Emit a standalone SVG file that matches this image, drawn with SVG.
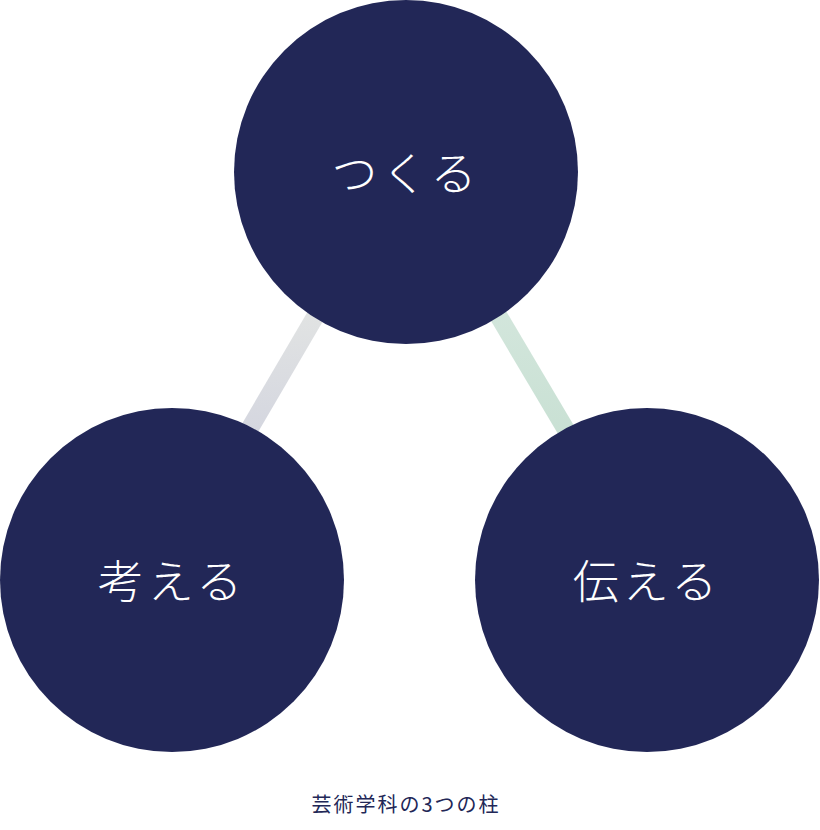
<svg xmlns="http://www.w3.org/2000/svg" width="820" height="830" viewBox="0 0 820 830">
<defs>
<linearGradient id="gl" x1="0" y1="0" x2="0" y2="1"><stop offset="0" stop-color="#e2e4e3"/><stop offset="1" stop-color="#d3d5df"/></linearGradient>
<linearGradient id="gr" x1="0" y1="0" x2="0" y2="1"><stop offset="0" stop-color="#d3e6dc"/><stop offset="1" stop-color="#c8e0d3"/></linearGradient>
<linearGradient id="gb" x1="0" y1="0" x2="1" y2="0"><stop offset="0" stop-color="#d6d8e1"/><stop offset="0.7" stop-color="#eff0ea"/><stop offset="1" stop-color="#e7e9e6"/></linearGradient>
<style>
.c{fill:#222757}
.t{fill:#fff;font-family:"Noto Sans CJK JP",sans-serif;font-weight:300;font-size:46px;text-anchor:middle;letter-spacing:4px}
</style>
</defs>
<g id="connectors" stroke-width="18" fill="none">
<line x1="322" y1="305" x2="240" y2="445" stroke="url(#gl)"/>
<line x1="492" y1="305" x2="575" y2="445" stroke="url(#gr)"/>
<line x1="330" y1="564" x2="490" y2="564" stroke="url(#gb)"/>
</g>
<g id="tsukuru"><circle class="c" cx="406" cy="172" r="172"/><text class="t" x="406" y="190">つくる</text></g>
<g id="kangaeru"><circle class="c" cx="172" cy="580" r="172"/><text class="t" x="172" y="598">考える</text></g>
<g id="tsutaeru"><circle class="c" cx="647" cy="580" r="172"/><text class="t" x="647" y="598">伝える</text></g>
<text x="406" y="812" fill="#222757" font-family="Noto Sans CJK JP,sans-serif" font-size="20" text-anchor="middle" letter-spacing="2">芸術学科の3つの柱</text>
</svg>
